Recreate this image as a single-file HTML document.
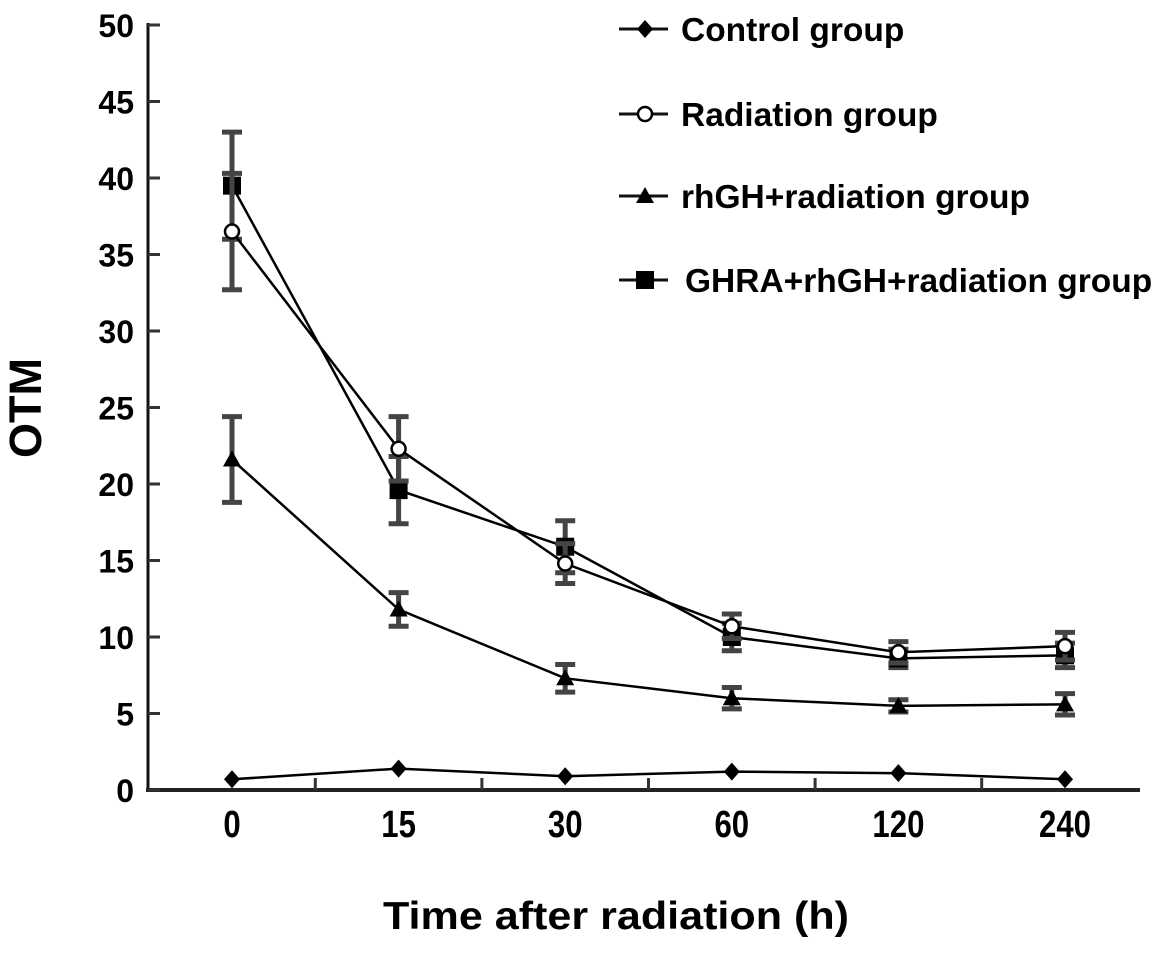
<!DOCTYPE html>
<html><head><meta charset="utf-8"><style>
body{margin:0;background:#fff;}
svg text{font-family:"Liberation Sans",sans-serif;font-weight:bold;fill:#000;}
</style></head><body>
<svg id="chart" width="1165" height="954" viewBox="0 0 1165 954" xmlns="http://www.w3.org/2000/svg">
<g id="axes"></g>
<g id="series"></g>
<g id="legend"></g>
<text x="383" y="929" font-size="39" textLength="466" lengthAdjust="spacingAndGlyphs">Time after radiation (h)</text>
<text transform="translate(41,408) rotate(-90)" font-size="45" text-anchor="middle">OTM</text>
</svg>
<script>
const categories = ["0","15","30","60","120","240"];
const yTicks = [0,5,10,15,20,25,30,35,40,45,50];
const seriesNames = ["Control group","Radiation group","rhGH+radiation group","GHRA+rhGH+radiation group"];
const controlValues = [0.7,1.4,0.9,1.2,1.1,0.7];
const radiationValues = [36.5,22.3,14.8,10.7,9.0,9.4];
const rhghValues = [21.6,11.8,7.3,6.0,5.5,5.6];
const ghraValues = [39.5,19.6,15.9,10.0,8.6,8.8];
const controlErr = [0,0,0,0,0,0];
const radiationErr = [3.8,2.1,1.3,0.8,0.7,0.9];
const rhghErr = [2.8,1.1,0.9,0.7,0.4,0.7];
const ghraErr = [3.5,2.2,1.7,0.9,0.6,0.8];

const NS="http://www.w3.org/2000/svg";
const X0=232, XSTEP=166.6, Y0=790, YTOP=25, YMAX=50;
function xPos(i){return X0+i*XSTEP;}
function yPos(v){return Y0-(v/YMAX)*(Y0-YTOP);}
function mk(tag,attrs,parent){const e=document.createElementNS(NS,tag);for(const k in attrs)e.setAttribute(k,attrs[k]);parent.appendChild(e);return e;}

const axes=document.getElementById('axes');
let yl=mk('line',{x1:148,y1:YTOP-2,x2:148,y2:Y0+2,stroke:'#111','stroke-width':3},axes);


let xl=mk('line',{x1:146,y1:Y0,x2:1140,y2:Y0,stroke:'#222','stroke-width':4},axes);


yTicks.forEach(v=>{
  const y=yPos(v);
  const t=mk('line',{x1:148,y1:y,x2:160,y2:y,stroke:'#333','stroke-width':3},axes);
  
  
  const lb=mk('text',{x:134,y:y+12,'font-size':32,'text-anchor':'end'},axes);
  lb.textContent=v;
  
  
});
categories.forEach((c,i)=>{
  const x=xPos(i);
  const lb=mk('text',{x:0,y:0,'font-size':38,'text-anchor':'middle',transform:`translate(${x},837) scale(0.82,1)`},axes);
  lb.textContent=c;
  
  
  const tx=x+XSTEP/2;
  if(tx<1140){
    const t=mk('line',{x1:tx,y1:Y0,x2:tx,y2:Y0-12,stroke:'#333','stroke-width':3},axes);
    
    
  }
});

function marker(type,x,y,parent){
  let m;
  if(type==='diamond') m=mk('polygon',{points:`${x},${y-9} ${x+8},${y} ${x},${y+9} ${x-8},${y}`,fill:'#000'},parent);
  else if(type==='circle') m=mk('circle',{cx:x,cy:y,r:7,fill:'#fff',stroke:'#000','stroke-width':2.5},parent);
  else if(type==='triangle') m=mk('polygon',{points:`${x},${y-9} ${x+9},${y+7} ${x-9},${y+7}`,fill:'#000'},parent);
  else m=mk('rect',{x:x-9,y:y-9,width:18,height:18,fill:'#000'},parent);
  return m;
}
const seriesG=document.getElementById('series');
const allSeries=[
  {vals:controlValues,err:controlErr,m:'diamond',name:'control'},
  {vals:rhghValues,err:rhghErr,m:'triangle',name:'rhgh-radiation'},
  {vals:ghraValues,err:ghraErr,m:'square',name:'ghra-rhgh-radiation'},
  {vals:radiationValues,err:radiationErr,m:'circle',name:'radiation'}
];
allSeries.forEach(s=>{
  const g=mk('g',{},seriesG);
  
  
  s.vals.forEach((v,i)=>{
    if(s.err[i]>0){
      const x=xPos(i), y1=yPos(v+s.err[i]), y2=yPos(v-s.err[i]);
      const e=mk('path',{d:`M${x},${y1}V${y2}M${x-10},${y1}H${x+10}M${x-10},${y2}H${x+10}`,stroke:'#444','stroke-width':5,fill:'none'},g);
      
      
    }
  });
  const pts=s.vals.map((v,i)=>xPos(i)+','+yPos(v)).join(' ');
  const pl=mk('polyline',{points:pts,fill:'none',stroke:'#000','stroke-width':2.5},g);
  
  
  s.vals.forEach((v,i)=>{
    const m=marker(s.m,xPos(i),yPos(v),g);
    
    
  });
});

const legend=document.getElementById('legend');
const legendMarkers=['diamond','circle','triangle','square'];
const legendY=[29,114,196,280];
seriesNames.forEach((n,i)=>{
  const g=mk('g',{},legend);
  
  
  const y=legendY[i];
  mk('line',{x1:619,y1:y,x2:668,y2:y,stroke:'#111','stroke-width':3},g);
  marker(legendMarkers[i],645,y,g);
  const t=mk('text',{x:i===3?685:681,y:y+12,'font-size':33.5},g);
  t.textContent=n;
});
</script>
</body></html>
